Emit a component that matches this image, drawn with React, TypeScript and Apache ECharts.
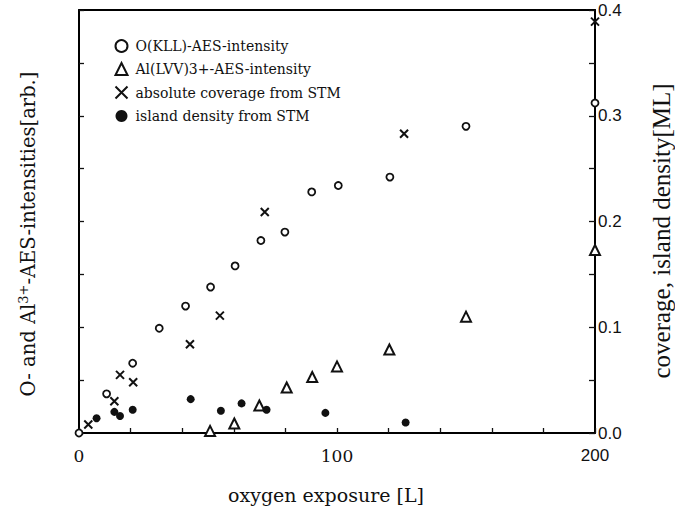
import React, { useEffect, useRef } from "react";
import * as echarts from "echarts";

const oX = [0, 10.7, 20.8, 31.1, 41.3, 51, 60.5, 70.5, 79.8, 90.2, 100.5, 120.5, 150, 200];
const oY = [0, 0.037, 0.066, 0.099, 0.12, 0.138, 0.158, 0.182, 0.19, 0.228, 0.234, 0.242, 0.29, 0.312];
const alX = [50.8, 60.2, 69.9, 80.5, 90.4, 100, 120.3, 150, 200];
const alY = [0.002, 0.009, 0.026, 0.043, 0.053, 0.063, 0.079, 0.11, 0.173];
const covX = [3.6, 13.7, 15.9, 21, 43, 54.6, 72, 126, 200];
const covY = [0.008, 0.03, 0.055, 0.048, 0.084, 0.111, 0.209, 0.283, 0.389];
const islX = [6.8, 13.7, 15.9, 20.8, 43.3, 55, 63, 72.7, 95.5, 126.6];
const islY = [0.014, 0.02, 0.016, 0.022, 0.032, 0.021, 0.028, 0.022, 0.019, 0.01];

const seriesNames = [
  "O(KLL)-AES-intensity",
  "Al(LVV)3+-AES-intensity",
  "absolute coverage from STM",
  "island density from STM",
];
const xLabels = [0, 100, 200];
const yLabels = [0, 0.1, 0.2, 0.3, 0.4];

const zip = (xs: number[], ys: number[]) => xs.map((x, i) => [x, ys[i]]);

const SERIF = "'Liberation Serif', serif";
const PAL = "'DejaVu Serif', serif";
const SANS = "'Liberation Sans', Arial, sans-serif";
const INK = "#111";

const mkLine = () => ({ show: true, onZero: false, lineStyle: { color: "#000", width: 2 } });
const mkTick = (len: number) => ({
  show: true,
  inside: true,
  length: len,
  lineStyle: { color: INK, width: 1.3 },
});

export default function App() {
  const ref = useRef<HTMLDivElement>(null);
  useEffect(() => {
    if (!ref.current) return;
    const chart = echarts.init(ref.current, null, { renderer: "svg" });
    const crossPath = "path://M0,0L10,10M10,0L0,10";
    chart.setOption({
      animation: false,
      backgroundColor: "#fff",
      grid: { left: 79, right: 80, top: 10, bottom: 79, containLabel: false, show: false },
      xAxis: [
        {
          type: "value",
          min: 0,
          max: 200,
          interval: 20,
          position: "bottom",
          axisLine: mkLine(),
          axisTick: mkTick(5),
          axisLabel: {
            color: INK,
            margin: 14,
            formatter: (v: number) =>
              xLabels.includes(v) ? (v === 200 ? `{s|${v}}` : `{p|${v}}`) : "",
            rich: {
              p: { fontFamily: PAL, fontSize: 17, color: INK },
              s: { fontFamily: SANS, fontSize: 17, color: INK },
            },
          },
          splitLine: { show: false },
        },
        {
          type: "value",
          min: 0,
          max: 200,
          interval: 20,
          position: "top",
          axisLine: mkLine(),
          axisTick: { show: false },
          axisLabel: { show: false },
          splitLine: { show: false },
        },
      ],
      yAxis: [
        {
          type: "value",
          min: 0,
          max: 0.4,
          interval: 0.05,
          position: "left",
          axisLine: mkLine(),
          axisTick: mkTick(5),
          axisLabel: { show: false },
          splitLine: { show: false },
        },
        {
          type: "value",
          min: 0,
          max: 0.4,
          interval: 0.05,
          position: "right",
          axisLine: mkLine(),
          axisTick: mkTick(6),
          axisLabel: {
            color: INK,
            fontFamily: SANS,
            fontSize: 17,
            margin: 3,
            formatter: (v: number) => {
              const r = Math.round(v * 100) / 100;
              return yLabels.some((l) => Math.abs(l - r) < 1e-6) ? r.toFixed(1) : "";
            },
          },
          splitLine: { show: false },
        },
      ],
      legend: {
        orient: "vertical",
        left: 113,
        top: 38,
        padding: 0,
        itemGap: 7,
        itemWidth: 12,
        itemHeight: 12,
        textStyle: { fontFamily: PAL, fontSize: 14, lineHeight: 16, color: INK, padding: [0, 0, 0, 3] },
        data: seriesNames,
      },
      graphic: [
        {
          type: "text",
          x: 28,
          y: 234,
          rotation: Math.PI / 2,
          style: {
            text: "{a|O- and Al}{s|3+}{a|-AES-intensities[arb.]}",
            rich: {
              a: { fontFamily: PAL, fontSize: 19.5, fill: INK, lineHeight: 23 },
              s: { fontFamily: PAL, fontSize: 13, fill: INK, verticalAlign: "top", lineHeight: 23 },
            },
            align: "center",
            verticalAlign: "middle",
          },
        },
        {
          type: "text",
          x: 661,
          y: 231,
          rotation: Math.PI / 2,
          style: {
            text: "coverage, island density[ML]",
            fontFamily: SERIF,
            fontSize: 25,
            fill: INK,
            align: "center",
            verticalAlign: "middle",
          },
        },
        {
          type: "text",
          x: 326,
          y: 495,
          style: {
            text: "oxygen exposure [L]",
            fontFamily: PAL,
            fontSize: 19,
            fill: INK,
            align: "center",
            verticalAlign: "middle",
          },
        },
      ],
      series: [
        {
          name: seriesNames[0],
          type: "scatter",
          xAxisIndex: 0,
          yAxisIndex: 0,
          symbol: "circle",
          symbolSize: 7,
          itemStyle: { color: "#fff", borderColor: INK, borderWidth: 1.8, opacity: 1 },
          data: zip(oX, oY),
          z: 3,
        },
        {
          name: seriesNames[1],
          type: "scatter",
          xAxisIndex: 0,
          yAxisIndex: 0,
          symbol: "triangle",
          symbolSize: 10,
          itemStyle: { color: "#fff", borderColor: INK, borderWidth: 2, opacity: 1 },
          data: zip(alX, alY),
          z: 3,
        },
        {
          name: seriesNames[2],
          type: "scatter",
          xAxisIndex: 0,
          yAxisIndex: 1,
          symbol: crossPath,
          symbolSize: 8,
          itemStyle: { color: "none", borderColor: INK, borderWidth: 2, opacity: 1 },
          data: zip(covX, covY),
          z: 4,
        },
        {
          name: seriesNames[3],
          type: "scatter",
          xAxisIndex: 0,
          yAxisIndex: 1,
          symbol: "circle",
          symbolSize: 8,
          itemStyle: { color: INK, borderColor: INK, borderWidth: 0, opacity: 1 },
          data: zip(islX, islY),
          z: 4,
        },
      ],
    });
    return () => chart.dispose();
  }, []);
  return (
    <div
      ref={ref}
      style={{ position: "absolute", left: 0, top: 0, width: 675, height: 512 }}
    />
  );
}
